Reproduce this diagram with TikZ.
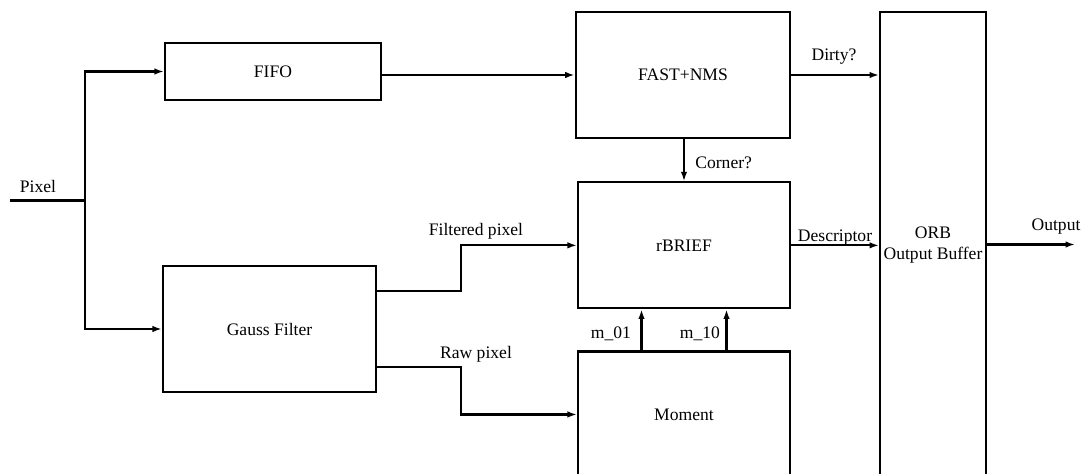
\documentclass[tikz,border=0pt]{standalone}
\usepackage{fontspec}
\setmainfont{Liberation Serif}
\usetikzlibrary{arrows.meta,positioning,calc}

\begin{document}
\begin{tikzpicture}[
  >={Latex[length=1.9mm,width=1.3mm]},
  font=\fontsize{10}{11.5}\selectfont,
  blockbox/.style={
    draw, line width=1.2pt, align=center, inner sep=2pt,
  },
  sigline/.style={line width=1.2pt},
  siglabel/.style={inner sep=0pt, anchor=base},
]
\useasboundingbox (0,0) rectangle (21.68,9.46);

% --- input stage ---
\node[blockbox, minimum width=4.32cm, minimum height=1.14cm] (fifo) at (5.46,8.03) {FIFO};
\node[blockbox, minimum width=4.26cm, minimum height=2.52cm] (gauss) at (5.39,2.88) {Gauss Filter};

% --- detector / descriptor column ---
\node[blockbox, minimum width=4.29cm, minimum height=2.53cm] (fast) at (13.66,7.96) {FAST+NMS};
\node[blockbox, minimum width=4.24cm, minimum height=2.52cm, below=0.84cm of fast, xshift=0.02cm] (rbrief) {rBRIEF};
\node[blockbox, minimum width=4.24cm, minimum height=2.52cm, below=0.82cm of rbrief] (moment) {Moment};

% --- output buffer (runs off the bottom edge) ---
\node[blockbox, minimum width=2.09cm, minimum height=9.33cm] (orb) at (18.66,4.56) {ORB\\Output Buffer};

% pixel input fans out to both branches
\coordinate (pixin) at (0.2,5.45);
\coordinate (split) at (1.7,5.45);
\draw[sigline] (pixin) -- (split);
\draw[sigline, ->] (split) |- (fifo.west);
\draw[sigline, ->] (split) |- (gauss.west);
\node[siglabel] (lpixel) at (0.76,5.61) {Pixel};

\draw[sigline, ->] (fifo.east |- fast.west) -- (fast.west);
\draw[sigline, ->] (fast.east) -- (fast.east -| orb.west);
\node[siglabel] (ldirty) at (16.68,8.24) {Dirty?};

\draw[sigline, ->] (fast.south -| rbrief.north) -- (rbrief.north);
\node[siglabel, anchor=base west] (lcorner) at (13.9,6.1) {Corner?};

\draw[sigline, ->] ($(gauss.east)+(0,0.76)$) -- ++(1.68,0) |- (rbrief.west);
\node[siglabel] (lfilt) at (9.52,4.76) {Filtered pixel};
\draw[sigline, ->] ($(gauss.east)+(0,-0.76)$) -- ++(1.68,0) |- (moment.west);
\node[siglabel] (lraw) at (9.52,2.29) {Raw pixel};

\draw[sigline, ->] ($(moment.north)+(-0.85,0)$) -- ($(rbrief.south)+(-0.85,0)$);
\draw[sigline, ->] ($(moment.north)+(0.85,0)$) -- ($(rbrief.south)+(0.85,0)$);
\node[siglabel] (lm01) at (12.22,2.69) {m\_01};
\node[siglabel] (lm10) at (14.0,2.69) {m\_10};

\draw[sigline, ->] (rbrief.east) -- (rbrief.east -| orb.west);
\node[siglabel] (ldesc) at (16.7,4.63) {Descriptor};

\coordinate (outend) at (21.5,4.57);
\draw[sigline, ->] (orb.east |- outend) -- (outend);
\node[siglabel] (lout) at (21.12,4.85) {Output};

\end{tikzpicture}
\end{document}
